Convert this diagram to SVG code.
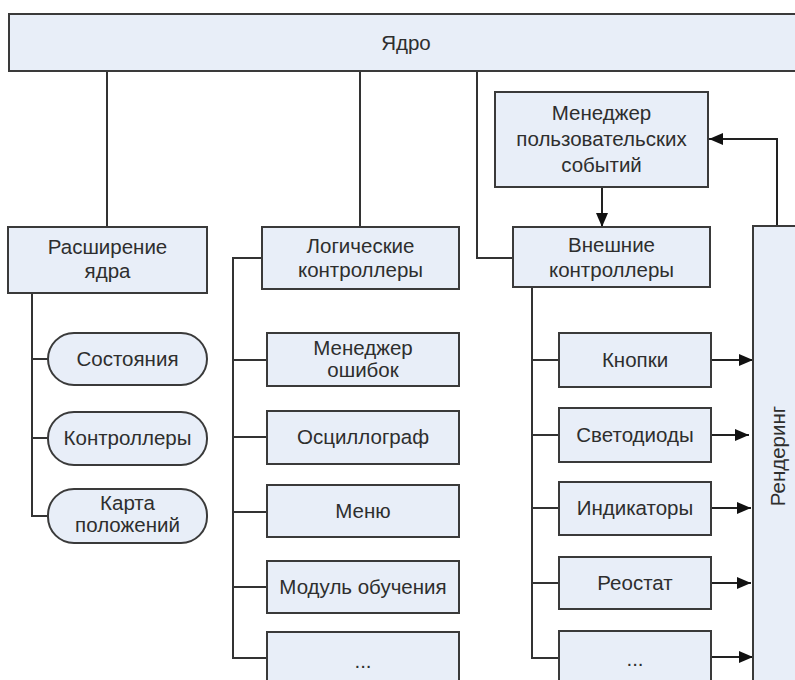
<svg xmlns="http://www.w3.org/2000/svg" width="795" height="680" viewBox="0 0 795 680">
<defs>
<style>
.box{fill:#E8EEF8;stroke:#3a3a3a;stroke-width:2}
.t{font-family:"Liberation Sans",Arial,sans-serif;font-size:20.5px;fill:#2e2e2e;text-anchor:middle}
.c{fill:none;stroke:#333;stroke-width:2}
.a{fill:none;stroke:#222;stroke-width:2;marker-end:url(#ah)}
</style>
<marker id="ah" viewBox="0 0 14 12" refX="14" refY="6" markerWidth="14" markerHeight="12" markerUnits="userSpaceOnUse" orient="auto">
<path d="M0,0 L14,6 L0,12 Z" fill="#111"/>
</marker>
</defs>
<rect width="795" height="680" fill="#fff"/>
<g id="connectors">
<path class="c" d="M107,71 V227"/>
<path class="c" d="M360,71 V227"/>
<path class="c" d="M477,71 V258 H513"/>
<path class="c" d="M32,293 V516 H48 M32,359 H48 M32,438 H48"/>
<path class="c" d="M262,258 H233 V658 H267 M233,360 H267 M233,437 H267 M233,512 H267 M233,587 H267"/>
<path class="c" d="M532,287 V658 H559 M532,360 H559 M532,435 H559 M532,508 H559 M532,583 H559"/>
<path class="a" d="M602,187 V227"/>
<path class="a" d="M777,226 V139 H709"/>
<path class="a" d="M711,360 H753"/>
<path class="a" d="M711,435 H749"/>
<path class="a" d="M711,508 H751"/>
<path class="a" d="M711,583 H751"/>
<path class="a" d="M711,657 H753"/>
</g>
<g id="core"><rect class="box" x="9" y="14" width="800" height="57"/><text class="t" x="406" y="50">Ядро</text></g>
<g id="user-events"><rect class="box" x="495" y="92" width="213" height="95"/><text class="t" x="601.5" y="120">Менеджер</text><text class="t" x="601.5" y="146">пользовательских</text><text class="t" x="601.5" y="172">событий</text></g>
<g id="ext-core"><rect class="box" x="8" y="227" width="199" height="66"/><text class="t" x="107.5" y="254">Расширение</text><text class="t" x="107.5" y="278">ядра</text></g>
<g id="logic"><rect class="box" x="262" y="227" width="197" height="62"/><text class="t" x="360.5" y="253">Логические</text><text class="t" x="360.5" y="277">контроллеры</text></g>
<g id="external"><rect class="box" x="513" y="227" width="197" height="60"/><text class="t" x="611.5" y="252">Внешние</text><text class="t" x="611.5" y="277">контроллеры</text></g>
<g id="render"><rect class="box" x="753" y="226" width="60" height="470"/><text class="t" transform="translate(785,456) rotate(-90)">Рендеринг</text></g>
<g id="states"><rect class="box" x="48" y="333" width="159" height="52" rx="26"/><text class="t" x="127.5" y="366">Состояния</text></g>
<g id="controllers"><rect class="box" x="48" y="412" width="159" height="53" rx="26"/><text class="t" x="127.5" y="445">Контроллеры</text></g>
<g id="map"><rect class="box" x="48" y="489" width="159" height="54" rx="26"/><text class="t" x="127.5" y="510">Карта</text><text class="t" x="127.5" y="532">положений</text></g>
<g id="errors"><rect class="box" x="267" y="333" width="192" height="53"/><text class="t" x="363" y="355">Менеджер</text><text class="t" x="363" y="377">ошибок</text></g>
<g id="osc"><rect class="box" x="267" y="411" width="192" height="53"/><text class="t" x="363" y="444">Осциллограф</text></g>
<g id="menu"><rect class="box" x="267" y="485" width="192" height="52"/><text class="t" x="363" y="518">Меню</text></g>
<g id="learn"><rect class="box" x="267" y="561" width="192" height="52"/><text class="t" x="363" y="594">Модуль обучения</text></g>
<g id="logic-more"><rect class="box" x="267" y="632" width="192" height="60"/><text class="t" x="363" y="668">...</text></g>
<g id="buttons"><rect class="box" x="559" y="333" width="152" height="54"/><text class="t" x="635" y="367">Кнопки</text></g>
<g id="leds"><rect class="box" x="559" y="408" width="152" height="54"/><text class="t" x="635" y="442">Светодиоды</text></g>
<g id="indicators"><rect class="box" x="559" y="482" width="152" height="53"/><text class="t" x="635" y="515">Индикаторы</text></g>
<g id="rheostat"><rect class="box" x="559" y="557" width="152" height="52"/><text class="t" x="635" y="590">Реостат</text></g>
<g id="ext-more"><rect class="box" x="559" y="631" width="152" height="60"/><text class="t" x="635" y="666">...</text></g>
</svg>
